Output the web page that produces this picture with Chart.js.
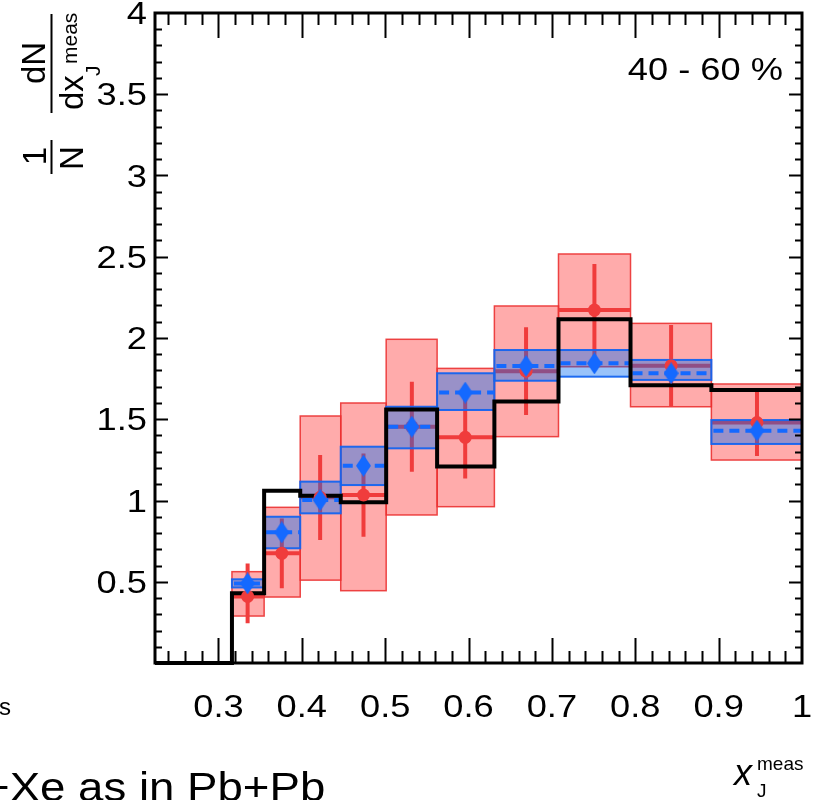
<!DOCTYPE html>
<html>
<head>
<meta charset="utf-8">
<script src="https://cdn.jsdelivr.net/npm/chart.js@4"></script>
<style>
  html, body { margin: 0; padding: 0; background: #fff; }
  canvas { display: block; }
</style>
</head>
<body>
<canvas id="xjChart" width="817" height="800"></canvas>
<script>
// x_J bin edges (log spaced)
const binEdges = [0.2239, 0.2512, 0.2818, 0.3162, 0.3548, 0.3981, 0.4467, 0.5012, 0.5623, 0.6310, 0.7079, 0.7943, 0.8913, 1.0];
// black reference histogram, one value per bin
const refHist = [0, 0, 0, 0.43, 1.06, 1.03, 0.99, 1.56, 1.21, 1.61, 2.115, 1.71, 1.68];

// measured points live in the last 10 bins
const binLow = binEdges.slice(3, 13);
const binHigh = binEdges.slice(4, 14);
const binCenters = [0.335, 0.376, 0.422, 0.474, 0.532, 0.596, 0.669, 0.751, 0.843, 0.946];

// red: Xe+Xe
const xeVals    = [0.41, 0.675, 1.02, 1.034, 1.454, 1.389, 1.796, 2.172, 1.83, 1.48];
const xeStatLo  = [0.244, 0.46, 0.757, 0.777, 1.177, 1.136, 1.526, 1.89, 1.577, 1.274];
const xeStatHi  = [0.613, 0.89, 1.28, 1.29, 1.731, 1.642, 2.066, 2.455, 2.08, 1.67];
const xeSysLo   = [0.289, 0.406, 0.51, 0.445, 0.911, 0.962, 1.393, 1.823, 1.577, 1.249];
const xeSysHi   = [0.562, 0.958, 1.52, 1.60, 1.992, 1.813, 2.197, 2.517, 2.09, 1.717];

// blue: Pb+Pb
const pbVals    = [0.49, 0.804, 1.003, 1.214, 1.454, 1.664, 1.828, 1.844, 1.783, 1.43];
const pbSysLo   = [0.465, 0.706, 0.921, 1.095, 1.321, 1.557, 1.737, 1.762, 1.742, 1.348];
const pbSysHi   = [0.515, 0.90, 1.116, 1.331, 1.577, 1.783, 1.926, 1.926, 1.865, 1.495];

const xTicks = [0.3, 0.4, 0.5, 0.6, 0.7, 0.8, 0.9, 1.0];
const xTickLabels = ["0.3", "0.4", "0.5", "0.6", "0.7", "0.8", "0.9", "1"];
const yTicks = [0.5, 1, 1.5, 2, 2.5, 3, 3.5, 4];
const yTickLabels = ["0.5", "1", "1.5", "2", "2.5", "3", "3.5", "4"];

const RED = "#f03c3c";
const BLUE = "#1469ff";
const FONT = "'Liberation Sans', Arial, Helvetica, sans-serif";

function diamond(w, h, color) {
    const c = document.createElement("canvas");
    c.width = w; c.height = h;
    const g = c.getContext("2d");
    g.fillStyle = color;
    g.beginPath();
    g.moveTo(w / 2, 0); g.lineTo(w, h / 2); g.lineTo(w / 2, h); g.lineTo(0, h / 2);
    g.closePath();
    g.fill();
    return c;
}

// stretched text helper (the picture is a bit wide)
function wideText(ctx, text, x, y, font, align, sx) {
    ctx.save();
    ctx.translate(x, y);
    ctx.scale(sx || 1.17, 1);
    ctx.font = font;
    ctx.textAlign = align;
    ctx.textBaseline = "alphabetic";
    ctx.fillText(text, 0, 0);
    ctx.restore();
}

// rotated text, baseline at screen x = bx, running upward
function upText(ctx, text, bx, sy, font, align) {
    ctx.save();
    ctx.translate(bx, sy);
    ctx.rotate(-Math.PI / 2);
    ctx.font = font;
    ctx.textAlign = align;
    ctx.textBaseline = "alphabetic";
    ctx.fillText(text, 0, 0);
    ctx.restore();
}

const bandsPlugin = {
    id: "bands",
    beforeDatasetsDraw(chart) {
        const { ctx, scales: { x, y } } = chart;
        ctx.save();
        // red systematic boxes
        for (let i = 0; i < xeVals.length; i++) {
            const x0 = x.getPixelForValue(binLow[i]), x1 = x.getPixelForValue(binHigh[i]);
            const y0 = y.getPixelForValue(xeSysHi[i]), y1 = y.getPixelForValue(xeSysLo[i]);
            ctx.fillStyle = "rgba(255,0,0,0.33)";
            ctx.fillRect(x0, y0, x1 - x0, y1 - y0);
            ctx.strokeStyle = "rgba(235,50,50,0.9)";
            ctx.lineWidth = 1.5;
            ctx.strokeRect(x0, y0, x1 - x0, y1 - y0);
        }
        // red stat bars + bin width lines
        ctx.strokeStyle = RED;
        ctx.lineWidth = 4;
        ctx.lineCap = "butt";
        for (let i = 0; i < xeVals.length; i++) {
            const xc = x.getPixelForValue(binCenters[i]);
            const yv = y.getPixelForValue(xeVals[i]);
            ctx.beginPath();
            ctx.moveTo(xc, y.getPixelForValue(xeStatLo[i]));
            ctx.lineTo(xc, y.getPixelForValue(xeStatHi[i]));
            ctx.moveTo(x.getPixelForValue(binLow[i]), yv);
            ctx.lineTo(x.getPixelForValue(binHigh[i]), yv);
            ctx.stroke();
        }
        // blue systematic boxes
        for (let i = 0; i < pbVals.length; i++) {
            const x0 = x.getPixelForValue(binLow[i]), x1 = x.getPixelForValue(binHigh[i]);
            const y0 = y.getPixelForValue(pbSysHi[i]), y1 = y.getPixelForValue(pbSysLo[i]);
            ctx.fillStyle = "rgba(0,105,242,0.4)";
            ctx.fillRect(x0, y0, x1 - x0, y1 - y0);
            ctx.strokeStyle = "rgba(20,100,240,0.95)";
            ctx.lineWidth = 2;
            ctx.strokeRect(x0, y0, x1 - x0, y1 - y0);
        }
        // blue dashed bin width lines
        ctx.strokeStyle = BLUE;
        ctx.lineWidth = 4;
        ctx.setLineDash([10, 6]);
        for (let i = 0; i < pbVals.length; i++) {
            const yv = y.getPixelForValue(pbVals[i]);
            ctx.beginPath();
            ctx.moveTo(x.getPixelForValue(binLow[i]) + 2, yv);
            ctx.lineTo(x.getPixelForValue(binHigh[i]), yv);
            ctx.stroke();
        }
        ctx.restore();
    }
};

const framePlugin = {
    id: "frame",
    afterDraw(chart) {
        const { ctx, chartArea: a, scales: { x, y } } = chart;
        ctx.save();
        ctx.strokeStyle = "#000";
        ctx.fillStyle = "#000";

        // ticks, inward on all four sides
        ctx.lineWidth = 2;
        ctx.beginPath();
        for (let v = 0.24; v < 1.0; v += 0.02) {
            const px = Math.round(x.getPixelForValue(v)) + 0.5;
            const major = xTicks.some(t => Math.abs(t - v) < 1e-6);
            const len = major ? 25 : 12;
            ctx.moveTo(px, a.bottom); ctx.lineTo(px, a.bottom - len);
            ctx.moveTo(px, a.top); ctx.lineTo(px, a.top + len);
        }
        for (let v = 0.1; v < 4.0; v += 0.1) {
            const py = Math.round(y.getPixelForValue(v)) + 0.5;
            const major = yTicks.some(t => Math.abs(t - v) < 1e-6);
            const len = major ? 13 : 7;
            ctx.moveTo(a.left, py); ctx.lineTo(a.left + len, py);
            ctx.moveTo(a.right, py); ctx.lineTo(a.right - len, py);
        }
        ctx.stroke();

        // frame
        ctx.lineWidth = 3;
        ctx.strokeRect(a.left, a.top, a.right - a.left, a.bottom - a.top);

        // tick labels
        const tickFont = "31px " + FONT;
        xTicks.forEach((v, i) => {
            wideText(ctx, xTickLabels[i], x.getPixelForValue(v), 717, tickFont, "center");
        });
        yTicks.forEach((v, i) => {
            wideText(ctx, yTickLabels[i], 147, y.getPixelForValue(v) + 11, tickFont, "right");
        });

        // centrality label
        wideText(ctx, "40 - 60 %", 783, 80, "31px " + FONT, "right");

        // y title: 1/N dN/dx_J^meas (rotated)
        const big = "33px " + FONT;
        const small = "21px " + FONT;
        upText(ctx, "1", 46, 156, big, "center");
        upText(ctx, "N", 83, 158, big, "center");
        upText(ctx, "dN", 45, 63, big, "center");
        upText(ctx, "dx", 83, 110, big, "left");
        upText(ctx, "J", 100, 76, small, "left");
        upText(ctx, "meas", 77, 64, small, "left");
        ctx.lineWidth = 2;
        ctx.beginPath();
        ctx.moveTo(51.5, 140); ctx.lineTo(51.5, 174);
        ctx.moveTo(51.5, 14); ctx.lineTo(51.5, 113);
        ctx.stroke();

        // x title: x_J^meas
        ctx.font = "italic 36px " + FONT;
        ctx.textAlign = "left";
        ctx.fillText("x", 734, 785);
        ctx.font = "19px " + FONT;
        ctx.fillText("meas", 757, 770);
        ctx.fillText("J", 757, 797);

        // leftovers of the slide around the plot
        ctx.font = "24px " + FONT;
        ctx.textAlign = "right";
        ctx.fillText("s", 11, 715);
        wideText(ctx, "+Xe as in Pb+Pb", -17, 801, "40px " + FONT, "left", 1.14);

        ctx.restore();
    }
};

const refLine = binEdges.slice(0, 13).map((e, i) => ({ x: e, y: refHist[i] }));
refLine.push({ x: binEdges[13], y: refHist[12] });

const ctx = document.getElementById("xjChart").getContext("2d");
const xjChart = new Chart(ctx, {
    type: "scatter",
    data: {
        datasets: [
            {
                label: "Pb+Pb",
                data: binCenters.map((c, i) => ({ x: c, y: pbVals[i] })),
                pointStyle: diamond(15, 22, BLUE),
                pointRadius: 10,
                order: 0
            },
            {
                label: "Xe+Xe",
                data: binCenters.map((c, i) => ({ x: c, y: xeVals[i] })),
                pointStyle: "circle",
                pointRadius: 6.5,
                backgroundColor: RED,
                borderWidth: 0,
                order: 1
            },
            {
                label: "reference",
                type: "line",
                data: refLine,
                stepped: "before",
                borderColor: "#000",
                borderWidth: 4,
                pointRadius: 0,
                fill: false,
                clip: false,
                order: 2
            }
        ]
    },
    options: {
        responsive: false,
        animation: false,
        devicePixelRatio: 1,
        events: [],
        layout: { padding: { left: 155, right: 15, top: 13, bottom: 137 } },
        scales: {
            x: { type: "linear", min: binEdges[0], max: 1.0, display: false },
            y: { type: "linear", min: 0, max: 4, display: false }
        },
        plugins: { legend: { display: false }, tooltip: { enabled: false } }
    },
    plugins: [bandsPlugin, framePlugin]
});
</script>
</body>
</html>
